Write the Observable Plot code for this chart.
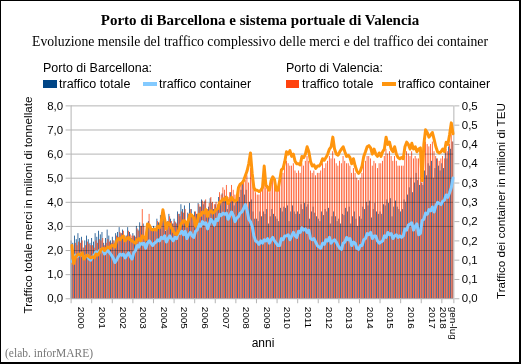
<!DOCTYPE html>
<html><head><meta charset="utf-8">
<script src="https://cdn.jsdelivr.net/npm/d3@7"></script>
<script src="https://cdn.jsdelivr.net/npm/@observablehq/plot@0.6"></script>
<style>
body{margin:0;background:#fff}
#frame{position:relative;width:521px;height:364px;box-sizing:border-box;border-style:solid;border-color:#000;border-width:1px 2px 2px 1px}
#frame svg{position:absolute;left:-1px;top:-1px}
</style></head><body><div id="frame"></div>
<script>
// Monthly values, Jan 2000 – Jul 2018
// Porto di Barcellona – traffico totale (milioni di tonnellate)
const barcTotale = [
2.4,2.3,2.6,2.45,2.7,2.5,2.55,2.1,2.4,2.6,2.45,2.3,
2.5,2.35,2.7,2.55,2.8,2.65,2.75,2.3,2.5,2.85,2.6,2.4,
2.55,2.4,2.7,2.75,2.95,2.7,2.85,2.35,2.6,2.95,2.75,2.5,
2.7,2.6,3.0,2.85,3.15,3.0,3.1,2.55,2.9,3.2,3.0,2.8,
3.0,2.9,3.3,3.15,3.45,3.2,3.4,2.8,3.2,3.5,3.3,3.1,
3.3,3.15,3.6,3.5,3.9,3.7,3.85,3.2,3.55,3.95,3.7,3.45,
3.6,3.5,3.95,3.8,4.1,3.9,4.05,3.45,3.8,4.15,3.95,3.7,
3.9,3.75,4.2,4.0,4.35,4.1,4.25,3.7,4.0,4.4,4.1,3.85,
4.0,4.1,4.2,4.5,4.9,4.3,4.5,3.7,4.0,4.1,3.6,3.3,
3.3,3.2,3.6,3.4,3.6,3.5,3.7,3.1,3.4,3.7,3.5,3.4,
3.3,3.2,3.75,3.6,3.8,3.75,3.85,3.2,3.6,3.85,3.6,3.5,
3.6,3.5,3.9,3.7,3.95,3.8,3.9,3.3,3.6,3.8,3.55,3.4,
3.3,3.2,3.6,3.45,3.7,3.6,3.75,3.1,3.4,3.6,3.4,3.2,
3.3,3.1,3.5,3.45,3.75,3.6,3.8,3.1,3.4,3.6,3.3,3.0,
3.4,3.3,3.8,3.7,4.0,3.85,4.05,3.35,3.7,3.95,3.6,3.5,
3.6,3.5,3.9,3.85,4.1,3.95,4.15,3.4,3.8,4.05,3.8,3.7,
3.6,3.7,4.1,4.0,4.3,4.6,5.0,4.4,4.8,5.2,4.9,4.7,
4.8,4.7,5.3,5.1,5.6,5.5,5.7,5.0,5.4,5.8,5.5,5.3,
5.6,5.4,6.1,5.8,6.3,6.2,6.5];
// Porto di Barcellona – traffico container (milioni di TEU)
const barcContainer = [
.097,.103,.113,.109,.113,.116,.113,.106,.109,.113,.103,.100,
.109,.113,.122,.119,.125,.128,.125,.116,.122,.125,.119,.113,
.106,.094,.100,.109,.116,.113,.116,.106,.113,.119,.109,.103,
.119,.125,.138,.134,.147,.141,.144,.131,.144,.150,.144,.138,
.144,.147,.153,.150,.159,.156,.163,.147,.156,.163,.156,.150,
.159,.156,.172,.169,.175,.166,.175,.156,.166,.172,.163,.159,
.175,.178,.194,.188,.200,.194,.197,.181,.194,.206,.200,.191,
.206,.203,.219,.216,.222,.219,.222,.206,.216,.225,.216,.200,
.209,.213,.222,.225,.234,.244,.231,.206,.200,.188,.163,.150,
.147,.141,.150,.144,.153,.150,.156,.144,.153,.159,.150,.144,
.138,.138,.156,.153,.163,.163,.166,.153,.163,.172,.163,.159,
.175,.172,.184,.178,.181,.172,.178,.156,.153,.156,.147,.138,
.134,.131,.144,.141,.153,.150,.159,.144,.150,.153,.147,.138,
.131,.128,.144,.147,.159,.153,.156,.138,.147,.144,.131,.128,
.138,.138,.153,.156,.169,.166,.172,.156,.163,.163,.150,.144,
.147,.150,.163,.159,.172,.166,.169,.156,.163,.166,.159,.163,
.159,.163,.181,.178,.191,.194,.197,.178,.188,.194,.166,.169,
.203,.206,.222,.219,.231,.228,.238,.225,.241,.250,.247,.244,
.253,.256,.269,.263,.275,.288,.313];
// Porto di Valencia – traffico totale (milioni di tonnellate)
const valTotale = [
2.1,2.0,2.3,2.2,2.35,2.3,2.4,2.1,2.2,2.35,2.25,2.2,
2.2,2.1,2.4,2.3,2.45,2.4,2.5,2.2,2.3,2.45,2.35,2.3,
2.4,2.3,2.6,2.55,2.75,2.7,2.8,2.45,2.6,2.8,2.65,2.6,
2.6,2.55,2.9,2.8,3.0,3.7,3.0,2.65,3.1,3.5,3.0,2.9,
2.9,2.85,3.2,3.1,3.35,3.3,3.4,2.9,3.2,3.4,3.2,3.1,
3.2,3.1,3.5,3.4,3.6,3.55,3.7,3.2,3.5,3.7,3.5,3.4,
3.6,3.5,3.9,3.8,4.05,4.0,4.1,3.7,3.95,4.2,4.0,3.9,
4.0,3.9,4.4,4.3,4.6,4.5,4.7,4.2,4.4,4.7,4.5,4.3,
4.3,4.5,4.7,4.8,5.0,4.9,5.1,4.8,5.4,5.0,4.6,4.4,
4.3,4.3,4.5,4.6,5.1,4.6,4.7,4.4,4.7,4.9,4.8,4.5,
4.5,4.7,5.1,5.2,5.5,5.7,5.6,5.5,5.5,5.6,5.3,5.2,
5.3,5.2,5.6,5.5,5.7,5.9,5.7,5.3,5.2,5.3,5.1,5.2,
5.2,5.3,5.6,5.4,5.6,5.7,5.9,5.8,6.1,5.8,5.6,5.5,
5.7,5.6,5.9,5.7,5.6,5.6,5.5,5.2,5.4,5.2,5.0,4.9,
5.0,5.2,5.6,5.7,5.9,5.9,5.8,5.5,5.7,5.6,5.4,5.6,
5.6,5.7,5.9,6.2,6.0,6.1,5.9,5.7,5.9,5.7,5.5,5.5,
5.5,5.5,5.9,6.1,6.0,5.9,6.1,5.8,5.9,5.8,5.8,5.9,
4.8,6.0,6.5,6.4,6.3,6.4,6.5,6.1,5.9,5.8,5.7,5.8,
5.9,5.8,6.2,6.1,6.4,6.8,6.5];
// Porto di Valencia – traffico container (milioni di TEU)
const valContainer = [
.138,.091,.106,.113,.116,.113,.119,.103,.109,.113,.109,.106,
.109,.106,.116,.113,.119,.128,.131,.125,.131,.134,.131,.138,
.138,.134,.150,.156,.153,.159,.163,.150,.156,.159,.153,.150,
.147,.144,.153,.156,.150,.163,.159,.153,.194,.191,.181,.178,
.181,.178,.188,.184,.200,.231,.206,.181,.197,.194,.184,.175,
.169,.166,.175,.188,.197,.203,.200,.188,.206,.219,.216,.209,
.188,.200,.219,.216,.225,.222,.231,.213,.225,.228,.222,.225,
.231,.234,.250,.253,.259,.256,.263,.247,.256,.263,.256,.253,
.256,.288,.297,.300,.306,.319,.331,.350,.378,.325,.288,.281,
.281,.278,.281,.288,.344,.294,.288,.281,.306,.316,.309,.281,
.281,.306,.334,.338,.356,.381,.375,.384,.369,.375,.356,.350,
.350,.347,.369,.366,.375,.394,.381,.356,.344,.347,.338,.344,
.344,.350,.363,.359,.366,.375,.388,.394,.419,.388,.375,.372,
.381,.388,.394,.381,.369,.372,.366,.350,.363,.344,.331,.325,
.331,.344,.369,.381,.394,.397,.391,.375,.388,.375,.369,.378,
.369,.381,.388,.419,.400,.406,.388,.381,.394,.375,.366,.363,
.366,.363,.394,.406,.400,.388,.403,.388,.394,.381,.388,.391,
.306,.400,.438,.431,.419,.425,.431,.413,.394,.381,.378,.381,
.388,.381,.406,.400,.425,.456,.428];

const yearLabels = ["2000","2001","2002","2003","2004","2005","2006","2007","2008",
  "2009","2010","2011","2012","2013","2014","2015","2016","2017","gen-lug\n2018"];
const leftTicks = [0,1,2,3,4,5,6,7,8];
const rightTicks = [0,0.05,0.1,0.15,0.2,0.25,0.3,0.35,0.4,0.45,0.5];
const rightLabels = ["0,0","0,1","0,1","0,2","0,2","0,3","0,3","0,4","0,4","0,5","0,5"];

const K = 8 / 0.5; // 8 Mt on the left axis = 0.5 M TEU on the right axis
const n = barcTotale.length;
const data = d3.range(n).map(i => ({i, bt: barcTotale[i], bc: barcContainer[i], vt: valTotale[i], vc: valContainer[i]}));
const yearBounds = yearLabels.map((_, k) => Math.min(k * 12, n)).concat([n]);
const labelData = yearLabels.map((t, k) => ({pos: (yearBounds[k] + yearBounds[k + 1]) / 2, t}));
const fmt = d => d.toFixed(1).replace(".", ",");
const grid = "#b3b3b3";

const chart = Plot.plot({
  width: 521, height: 364,
  marginLeft: 71, marginRight: 65, marginTop: 106, marginBottom: 64,
  style: {fontFamily: "'Liberation Sans', Arial, sans-serif", fontSize: "11px", color: "#000", background: "transparent", overflow: "visible"},
  x: {domain: [0, n], axis: null, label: null},
  y: {domain: [0, 8], axis: null, label: null},
  marks: [
    Plot.rect(data, {x1: d => d.i + 0.05, x2: d => d.i + 0.5, y1: 0, y2: "bt", fill: "#004586"}),
    Plot.rect(data, {x1: d => d.i + 0.5, x2: d => d.i + 0.95, y1: 0, y2: "vt", fill: "#ff420e"}),
    Plot.ruleY(leftTicks, {stroke: grid, mixBlendMode: "multiply"}),
    Plot.ruleX([0, n], {stroke: grid}),
    Plot.lineY(data, {x: d => d.i + 0.5, y: d => d.bc * K, stroke: "#83caff", strokeWidth: 3, strokeLinejoin: "round"}),
    Plot.lineY(data, {x: d => d.i + 0.5, y: d => d.vc * K, stroke: "#ff950e", strokeWidth: 3, strokeLinejoin: "round"}),
    Plot.axisY(leftTicks, {anchor: "left", tickSize: 5, tickPadding: 3, tickFormat: fmt, stroke: grid, fill: "#000", fontSize: 11.5, label: null}),
    Plot.axisY(rightTicks.map(v => v * K), {anchor: "right", tickSize: 5, tickPadding: 3,
      tickFormat: d => rightLabels[Math.round(d / (0.05 * K))], stroke: grid, fill: "#000", fontSize: 11.5, label: null}),
    Plot.axisX(yearBounds, {anchor: "bottom", tickSize: 5, tickFormat: () => "", stroke: grid, label: null}),
    Plot.text(labelData, {x: "pos", text: "t", frameAnchor: "bottom", dy: 8, rotate: 90,
      textAnchor: "start", lineAnchor: "middle", fontSize: 10, lineHeight: 0.95})
  ]
});
document.getElementById("frame").appendChild(chart);

// Titles, legend and axis titles
const o = d3.select("#frame").append("svg").attr("width", 521).attr("height", 364);
const serif = "'Liberation Serif', 'Times New Roman', serif";
const sans = "'Liberation Sans', Arial, sans-serif";
o.append("text").attr("x", 260).attr("y", 25).attr("text-anchor", "middle")
  .style("font", `bold 15px ${serif}`).text("Porto di Barcellona e sistema portuale di Valencia");
o.append("text").attr("x", 260).attr("y", 46).attr("text-anchor", "middle")
  .style("font", `13.7px ${serif}`).text("Evoluzione mensile del traffico complessivo delle merci e del traffico dei container");
const lg = (x, y, t) => o.append("text").attr("x", x).attr("y", y).style("font", `12.5px ${sans}`).text(t);
lg(43, 72, "Porto di Barcellona:");
lg(286, 72, "Porto di Valencia:");
o.append("rect").attr("x", 43).attr("y", 80).attr("width", 14).attr("height", 8).attr("fill", "#004586");
lg(59, 88, "traffico totale");
o.append("rect").attr("x", 143).attr("y", 82).attr("width", 14).attr("height", 4).attr("fill", "#83caff");
lg(159, 88, "traffico container");
o.append("rect").attr("x", 286).attr("y", 80).attr("width", 13).attr("height", 8).attr("fill", "#ff420e");
lg(302, 88, "traffico totale");
o.append("rect").attr("x", 382).attr("y", 82).attr("width", 14).attr("height", 4).attr("fill", "#ff950e");
lg(398, 88, "traffico container");
o.append("text").attr("transform", "translate(32,205) rotate(-90)").attr("text-anchor", "middle")
  .style("font", `11.7px ${sans}`).text("Traffico totale merci in milioni di tonnellate");
o.append("text").attr("transform", "translate(505,201) rotate(-90)").attr("text-anchor", "middle")
  .style("font", `11.7px ${sans}`).text("Traffico dei container in milioni di TEU");
o.append("text").attr("x", 263).attr("y", 347).attr("text-anchor", "middle")
  .style("font", `12px ${sans}`).text("anni");
o.append("text").attr("x", 5).attr("y", 357).attr("fill", "#777")
  .style("font", `11.5px ${serif}`).text("(elab. inforMARE)");
</script></body></html>
